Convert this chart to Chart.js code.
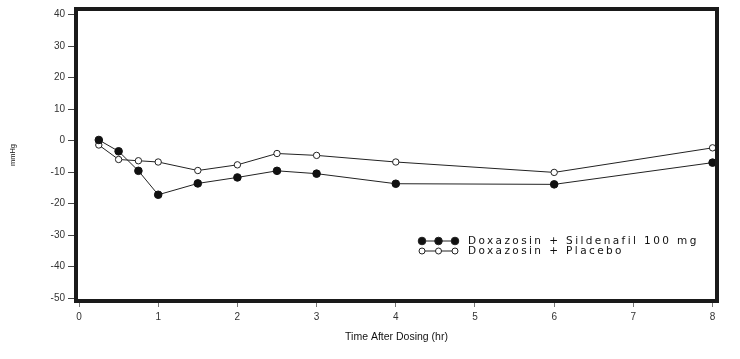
<!DOCTYPE html>
<html>
<head>
<meta charset="utf-8">
<script src="https://cdn.jsdelivr.net/npm/chart.js@4.4.0/dist/chart.umd.min.js"></script>
<style>
  html, body { margin: 0; padding: 0; background: #fff; }
  #wrap { width: 740px; height: 359px; position: relative; }
</style>
</head>
<body>
<div id="wrap"><canvas id="c" width="740" height="359"></canvas></div>
<script>
// ---- data ----
const times = [0.25, 0.5, 0.75, 1, 1.5, 2, 2.5, 3, 4, 6, 8];
const sildenafil = [0.2, -3.4, -9.6, -17.2, -13.6, -11.7, -9.6, -10.5, -13.7, -13.9, -7.0];
const placebo = [-1.4, -6.0, -6.4, -6.8, -9.5, -7.7, -4.1, -4.7, -6.8, -10.1, -2.3];
const seriesLabels = ['Doxazosin + Sildenafil 100 mg', 'Doxazosin + Placebo'];
const xTicks = [0, 1, 2, 3, 4, 5, 6, 7, 8];
const yTicks = [-50, -40, -30, -20, -10, 0, 10, 20, 30, 40];
const xTitle = 'Time After Dosing (hr)';
const yTitle = 'mmHg';

const FONT = '"Liberation Sans", Arial, sans-serif';
const LEGEND_FONT = '"DejaVu Sans", sans-serif';

const framePlugin = {
  id: 'frame',
  afterDraw(chart) {
    const {ctx, chartArea: a} = chart;
    ctx.save();
    ctx.strokeStyle = '#1a1a1a';
    ctx.lineWidth = 4;
    ctx.strokeRect(a.left, a.top, a.right - a.left, a.bottom - a.top);
    ctx.restore();
  }
};

const legendPlugin = {
  id: 'customLegend',
  afterDraw(chart) {
    const ctx = chart.ctx;
    const rows = [241, 251];
    const mx = [422, 438.5, 455];
    chart.data.datasets.forEach((ds, i) => {
      const y = rows[i];
      ctx.save();
      ctx.strokeStyle = '#222';
      ctx.lineWidth = 1;
      ctx.beginPath();
      ctx.moveTo(mx[0], y);
      ctx.lineTo(mx[2], y);
      ctx.stroke();
      mx.forEach(x => {
        ctx.beginPath();
        ctx.arc(x, y, i === 0 ? 3.8 : 3, 0, Math.PI * 2);
        ctx.fillStyle = ds.pointBackgroundColor;
        ctx.fill();
        ctx.lineWidth = 1;
        ctx.strokeStyle = '#222';
        ctx.stroke();
      });
      ctx.fillStyle = '#111';
      ctx.font = '10.5px ' + LEGEND_FONT;
      ctx.letterSpacing = '2.4px';
      ctx.textBaseline = 'middle';
      ctx.textAlign = 'left';
      ctx.fillText(ds.label, 468, y);
      ctx.restore();
    });
  }
};

new Chart(document.getElementById('c'), {
  type: 'line',
  data: {
    datasets: [
      {
        label: seriesLabels[0],
        data: times.map((t, i) => ({x: t, y: sildenafil[i]})),
        borderColor: '#222',
        borderWidth: 1,
        pointRadius: 3.8,
        pointBackgroundColor: '#111',
        pointBorderColor: '#111',
        pointBorderWidth: 1,
        tension: 0,
        clip: false
      },
      {
        label: seriesLabels[1],
        data: times.map((t, i) => ({x: t, y: placebo[i]})),
        borderColor: '#222',
        borderWidth: 1,
        pointRadius: 3.2,
        pointBackgroundColor: '#fff',
        pointBorderColor: '#222',
        pointBorderWidth: 1,
        tension: 0,
        clip: false
      }
    ]
  },
  options: {
    responsive: false,
    animation: false,
    devicePixelRatio: 1,
    layout: { padding: { left: 0, top: 5, right: 23, bottom: 0 } },
    plugins: { legend: { display: false }, tooltip: { enabled: false } },
    scales: {
      x: {
        type: 'linear',
        min: -0.038,
        max: 8.056,
        afterFit(s) { s.height = 58; },
        afterBuildTicks(s) { s.ticks = xTicks.map(v => ({value: v})); },
        border: { display: false },
        grid: { drawOnChartArea: false, drawTicks: true, tickLength: 6, color: '#777', tickWidth: 1 },
        ticks: { color: '#333', font: { family: FONT, size: 10 }, padding: 4, maxRotation: 0 },
        title: { display: true, text: xTitle, color: '#111', font: { family: FONT, size: 10.5 }, padding: { top: 0, bottom: 15.7 } }
      },
      y: {
        type: 'linear',
        min: -50.94,
        max: 41.79,
        afterFit(s) { s.width = 76; },
        afterBuildTicks(s) { s.ticks = yTicks.map(v => ({value: v})); },
        border: { display: false },
        grid: { drawOnChartArea: false, drawTicks: true, tickLength: 8, color: '#444', tickWidth: 1 },
        ticks: { color: '#333', font: { family: FONT, size: 10 }, padding: 3 },
        title: { display: true, text: yTitle, color: '#111', font: { family: FONT, size: 7.5 }, padding: { top: 8.5, bottom: 0 } }
      }
    }
  },
  plugins: [framePlugin, legendPlugin]
});
</script>
</body>
</html>
